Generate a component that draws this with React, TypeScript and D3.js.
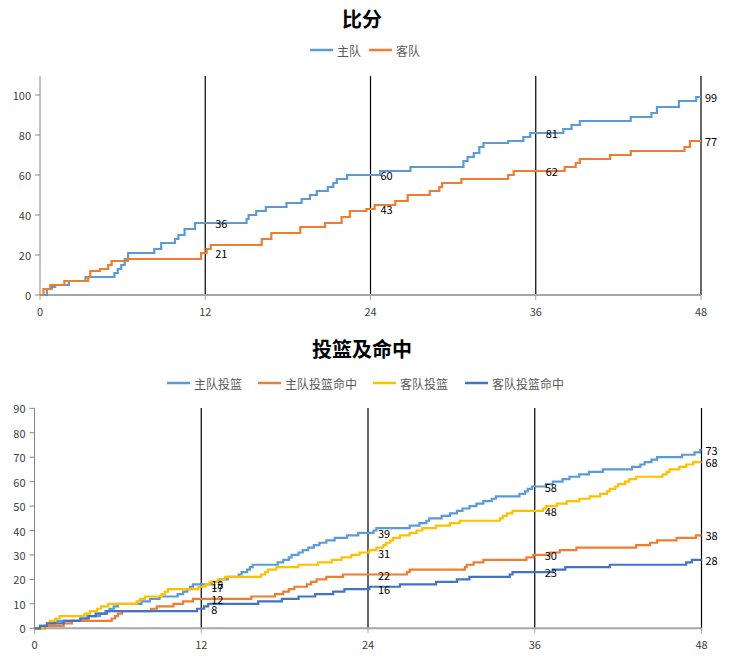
import React from "react";
import * as d3 from "d3";

// ---------- data ----------
const periodMarks = [12, 24, 36, 48];
const xTicks = [0, 12, 24, 36, 48];
const scoreTicks = [0, 20, 40, 60, 80, 100];
const shotTicks = [0, 10, 20, 30, 40, 50, 60, 70, 80, 90];

// [minute, cumulative value]
const homeScore: [number, number][] = [
  [0, 0], [0.5, 3], [0.85, 4], [1.1, 5], [2.1, 7], [3.3, 9], [5.4, 11], [5.65, 13], [5.9, 15],
  [6.15, 18], [6.4, 21], [8.3, 23], [8.8, 26], [9.8, 28], [10.05, 30], [10.5, 33], [11.26, 36],
  [15.0, 38], [15.15, 40], [15.7, 42], [16.4, 44], [17.9, 46], [19.0, 48], [19.6, 50], [20.1, 52],
  [20.9, 54], [21.3, 56], [21.55, 58], [22.3, 60], [24.7, 62], [26.9, 64], [30.75, 67], [31.05, 69],
  [31.5, 71], [31.9, 74], [32.2, 76], [34.0, 77], [35.1, 79], [35.6, 81], [38.0, 83], [38.6, 85],
  [39.2, 87], [42.9, 89], [44.4, 91], [44.8, 94], [46.4, 97], [47.65, 99],
];
const awayScore: [number, number][] = [
  [0, 0], [0.25, 3], [0.75, 5], [1.77, 7], [3.5, 9], [3.65, 12], [4.35, 13], [4.95, 15], [5.2, 17],
  [6.4, 18], [11.7, 21], [12.1, 23], [12.4, 25], [16.1, 28], [16.8, 31], [18.9, 34], [20.7, 36],
  [21.9, 39], [22.5, 42], [23.7, 43], [24.3, 45], [25.8, 47], [26.7, 50], [28.3, 52], [29.0, 54],
  [29.2, 56], [30.6, 58], [34.0, 60], [34.4, 62], [38.1, 64], [38.9, 66], [39.2, 68], [41.4, 70],
  [42.9, 72], [46.8, 74], [47.2, 77],
];

const homeFGA: [number, number][] = [
  [0, 0], [0.4, 1], [0.9, 2], [1.5, 3], [3.3, 4], [3.8, 5], [4.7, 6], [5.1, 7], [5.4, 8], [5.7, 9],
  [6.0, 10], [7.7, 11], [8.3, 12], [9.0, 13], [10.3, 14], [10.7, 15], [11.0, 16], [11.2, 17],
  [11.4, 18], [12.75, 19], [13.35, 20], [13.9, 21], [14.7, 22], [14.9, 23], [15.3, 24], [15.5, 25],
  [15.7, 26], [17.5, 27], [17.9, 28], [18.3, 29], [18.5, 30], [19.0, 31], [19.3, 32], [19.7, 33],
  [20.1, 34], [20.5, 35], [21.0, 36], [21.6, 37], [22.5, 38], [23.3, 39], [24.4, 40], [24.6, 41],
  [27.0, 42], [27.7, 43], [28.2, 44], [28.4, 45], [29.3, 46], [29.9, 47], [30.4, 48], [30.8, 49],
  [31.3, 50], [31.8, 51], [32.3, 52], [32.9, 53], [33.2, 54], [34.9, 55], [35.3, 56], [35.5, 57],
  [35.8, 58], [36.8, 59], [37.3, 60], [38.0, 61], [38.5, 62], [39.2, 63], [39.9, 64], [40.9, 65],
  [43.0, 66], [43.6, 67], [43.9, 68], [44.4, 69], [44.8, 70], [46.6, 71], [47.5, 72], [47.9, 73],
];
const homeFGM: [number, number][] = [
  [0, 0], [0.75, 1], [2.1, 2], [2.7, 3], [5.55, 4], [5.8, 5], [6.0, 6], [6.3, 7], [8.4, 8], [8.8, 9],
  [10.0, 10], [10.7, 11], [11.4, 12], [15.6, 13], [17.3, 14], [17.9, 15], [18.3, 16], [18.7, 17],
  [19.6, 18], [19.9, 19], [20.3, 20], [21.0, 21], [22.2, 22], [26.8, 23], [27.0, 24], [30.97, 25],
  [31.1, 26], [31.6, 27], [32.3, 28], [35.4, 29], [35.9, 30], [37.1, 31], [37.8, 32], [39.0, 33],
  [43.3, 34], [44.3, 35], [44.8, 36], [46.2, 37], [47.6, 38],
];
const awayFGA: [number, number][] = [
  [0, 0], [0.6, 1], [0.9, 2], [1.1, 3], [1.5, 4], [1.8, 5], [3.6, 6], [4.0, 7], [4.5, 8], [4.8, 9],
  [5.3, 10], [7.35, 11], [7.6, 12], [7.95, 13], [9.15, 14], [9.4, 15], [9.6, 16], [11.8, 17],
  [12.3, 18], [12.6, 19], [13.2, 20], [13.7, 21], [16.3, 22], [16.6, 23], [16.8, 24], [17.4, 25],
  [19.0, 26], [20.4, 27], [21.4, 28], [22.1, 29], [22.8, 30], [23.4, 31], [24.1, 32], [24.6, 33],
  [25.1, 34], [25.3, 35], [25.6, 36], [25.8, 37], [26.3, 38], [27.0, 39], [27.5, 40], [27.9, 41],
  [28.9, 42], [29.9, 43], [30.6, 44], [33.5, 45], [33.7, 46], [34.0, 47], [34.4, 48], [36.6, 49],
  [36.8, 50], [37.6, 51], [38.3, 52], [39.2, 53], [39.96, 54], [40.7, 55], [41.2, 56], [41.4, 57],
  [41.8, 58], [42.0, 59], [42.5, 60], [42.8, 61], [43.3, 62], [45.2, 63], [45.5, 64], [45.7, 65],
  [46.4, 66], [46.9, 67], [47.4, 68],
];
const awayFGM: [number, number][] = [
  [0, 0], [0.4, 1], [0.9, 2], [2.1, 3], [3.3, 4], [3.9, 5], [4.4, 6], [5.2, 7], [11.7, 8], [12.2, 9],
  [12.5, 10], [16.1, 11], [17.8, 12], [19.0, 13], [20.2, 14], [21.5, 15], [22.3, 16], [24.1, 17],
  [26.3, 18], [28.9, 19], [30.4, 20], [31.3, 21], [34.2, 22], [34.4, 23], [37.3, 24], [38.2, 25],
  [41.4, 26], [46.9, 27], [47.3, 28],
];

const scoreSeries = [
  { name: "主队", data: homeScore, color: "#5B9BD5" },
  { name: "客队", data: awayScore, color: "#ED7D31" },
];
const shotSeries = [
  { name: "主队投篮", data: homeFGA, color: "#5B9BD5" },
  { name: "主队投篮命中", data: homeFGM, color: "#ED7D31" },
  { name: "客队投篮", data: awayFGA, color: "#FFC000" },
  { name: "客队投篮命中", data: awayFGM, color: "#4472C4" },
];

// ---------- helpers ----------
const FONT = "'Noto Sans CJK SC', 'Noto Sans', sans-serif";
const valueAt = (data: [number, number][], m: number) => {
  let v = data[0][1];
  for (const [t, y] of data) if (t <= m + 1e-9) v = y;
  return v;
};

type Series = { name: string; data: [number, number][]; color: string };

function Panel(props: {
  title: string;
  titleY: number;
  legendY: number;
  legendX: number[];
  series: Series[];
  x0: number;
  x1: number;
  yTop: number;
  yBottom: number;
  yMax: number;
  yTicks: number[];
  axisTop: number;
}) {
  const { series, x0, x1, yTop, yBottom, yMax, yTicks, axisTop } = props;
  const x = d3.scaleLinear().domain([0, 48]).range([x0, x1]);
  const y = d3.scaleLinear().domain([0, yMax]).range([yBottom, yTop]);
  const line = d3
    .line<[number, number]>()
    .x((d) => x(d[0]))
    .y((d) => y(d[1]))
    .curve(d3.curveStepAfter);

  return (
    <g>
      <text x={362} y={props.titleY} textAnchor="middle" dominantBaseline="central" fontSize={20} fontWeight="bold" fill="#000" fontFamily={FONT}>
        {props.title}
      </text>
      {series.map((s, i) => (
        <g key={s.name}>
          <line x1={props.legendX[i]} x2={props.legendX[i] + 23} y1={props.legendY} y2={props.legendY} stroke={s.color} strokeWidth={2.5} />
          <text x={props.legendX[i] + 27} y={props.legendY} dominantBaseline="central" fontSize={12} fill="#595959" fontFamily={FONT}>
            {s.name}
          </text>
        </g>
      ))}
      {/* y axis */}
      <line x1={x0} x2={x0} y1={axisTop} y2={yBottom} stroke="#868686" strokeWidth={1} />
      {yTicks.map((t) => (
        <g key={t}>
          <line x1={x0 - 5} x2={x0} y1={y(t)} y2={y(t)} stroke="#868686" />
          <text x={x0 - 9} y={y(t)} textAnchor="end" dominantBaseline="central" fontSize={11} fill="#404040" fontFamily={FONT}>
            {t}
          </text>
        </g>
      ))}
      {/* period lines */}
      {periodMarks.map((m) => (
        <line key={m} x1={x(m)} x2={x(m)} y1={axisTop} y2={yBottom} stroke="#000" strokeWidth={1.2} />
      ))}
      {/* x axis */}
      <line x1={x0} x2={x1} y1={yBottom} y2={yBottom} stroke="#A6A6A6" strokeWidth={2} />
      {xTicks.map((t) => (
        <g key={t}>
          <line x1={x(t)} x2={x(t)} y1={yBottom} y2={yBottom + 5} stroke="#A6A6A6" />
          <text x={x(t)} y={yBottom + 16} textAnchor="middle" dominantBaseline="central" fontSize={11} fill="#404040" fontFamily={FONT}>
            {t}
          </text>
        </g>
      ))}
      {/* series */}
      {series.map((s) => {
        const pts: [number, number][] = [...s.data, [48, s.data[s.data.length - 1][1]]];
        return <path key={s.name} d={line(pts) || ""} fill="none" stroke={s.color} strokeWidth={2.2} />;
      })}
      {/* labels */}
      {series.map((s) =>
        periodMarks.map((m) => {
          const v = valueAt(s.data, m);
          return (
            <text
              key={s.name + m}
              x={x(m) + (m === 48 ? 4 : 10)}
              y={y(v)}
              dominantBaseline="central"
              fontSize={11}
              fill="#000"
              fontFamily={FONT}
            >
              {v}
            </text>
          );
        })
      )}
    </g>
  );
}

export default function App() {
  return (
    <svg width={734} height={668} style={{ position: "absolute", left: 0, top: 0, background: "#fff" }}>
      <rect width={734} height={668} fill="#fff" />
      <Panel
        title="比分"
        titleY={18}
        legendY={50}
        legendX={[310, 369]}
        series={scoreSeries}
        x0={40}
        x1={701}
        yTop={75}
        yBottom={295}
        yMax={110}
        yTicks={scoreTicks}
        axisTop={76}
      />
      <Panel
        title="投篮及命中"
        titleY={348}
        legendY={383}
        legendX={[167, 258, 373, 465]}
        series={shotSeries}
        x0={34.5}
        x1={701.5}
        yTop={408.3}
        yBottom={628.3}
        yMax={90}
        yTicks={shotTicks}
        axisTop={408}
      />
    </svg>
  );
}
